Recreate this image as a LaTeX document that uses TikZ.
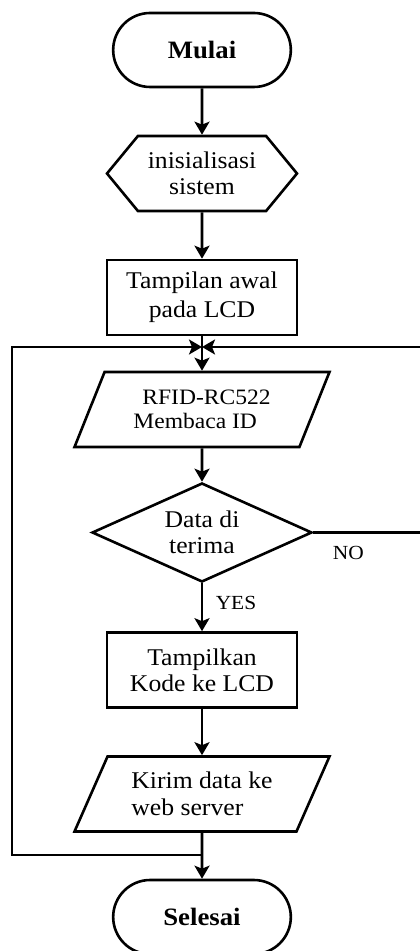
\documentclass[tikz,border=0pt]{standalone}
\usepackage{fontspec}
\setmainfont[FakeStretch=1.07]{Liberation Serif}
\usetikzlibrary{shapes.misc, shapes.geometric, shapes.symbols}
\usetikzlibrary{arrows.meta}

\begin{document}
\begin{tikzpicture}[
    font=\fontsize{12}{13}\selectfont,
    terminal/.style={draw, line width=1.3pt, rounded rectangle, minimum width=95.5pt, minimum height=37pt, font=\fontsize{12.5}{13}\selectfont\bfseries},
    persiapan/.style={draw, line width=1.3pt, signal, signal to=west and east, signal pointer angle=101, minimum width=95pt, minimum height=37.5pt, align=center},
    proses/.style={draw, line width=1.3pt, rectangle, minimum width=95pt, minimum height=37.5pt, align=center},
    io/.style={draw, line width=1.3pt, trapezium, trapezium left angle=60, trapezium right angle=120, trapezium stretches body, minimum width=127.5pt, minimum height=37.5pt, align=left},
    keputusan/.style={draw, line width=1.3pt, diamond, aspect=2.2, inner sep=0pt, minimum width=110pt, minimum height=49.5pt, align=center},
    panah/.style={line width=1.3pt, -{Stealth[length=6.5pt, width=7.5pt, inset=1.5pt]}},
    ket/.style={font=\fontsize{10}{12}\selectfont, inner sep=0pt}
  ]
    \useasboundingbox (-101pt,25pt) rectangle (108.5pt,-450.5pt);

    % Langkah-langkah
    \node[terminal] (mulai) at (0,0) {Mulai};
    \node[persiapan] (init) at (0,-61.75pt) {inisialisasi\\sistem};
    \node[proses, font=\fontsize{12}{14.5}\selectfont] (awal) at (0,-123.75pt) {Tampilan awal\\pada LCD};
    \node[io, font=\fontsize{11}{12}\selectfont] (baca) at (0,-179.75pt) {\hspace{4.5pt}RFID-RC522\\Membaca ID};
    \node[keputusan] (cek) at (0,-241.25pt) {Data di\\terima};
    \node[proses] (tampil) at (0,-310pt) {Tampilkan\\Kode ke LCD};
    \node[io, font=\fontsize{12}{13.5}\selectfont] (kirim) at (0,-372pt) {Kirim data ke\\web server};
    \node[terminal] (selesai) at (0,-433.5pt) {Selesai};

    % Titik bantu untuk loop
    \coordinate (j1) at (0,-148.5pt);
    \coordinate (j2) at (0,-402.5pt);
    \coordinate (kiri) at (-95pt,0);
    \coordinate (kanan) at (110pt,0);

    % Panah alur
    \draw[panah] (mulai) -- (init);
    \draw[panah] (init) -- (awal);
    \draw[panah] (awal) -- (baca);
    \draw[panah] (baca) -- (cek);
    \draw[panah] (cek) -- (tampil);
    \draw[panah] (tampil) -- (kirim);
    \draw[panah] (kirim) -- (selesai);
    \draw[panah] (j2) -- (j2 -| kiri) -- (j1 -| kiri) -- (j1); % kembali ke awal
    \draw[panah] (cek.east) -- (cek.east -| kanan) -- (j1 -| kanan) -- (j1); % NO

    % Keterangan
    \node[ket] (yes) at ([xshift=17pt,yshift=-10pt]cek.south) {YES};
    \node[ket] (no) at ([xshift=17.5pt,yshift=-10pt]cek.east) {NO};
\end{tikzpicture}
\end{document}
